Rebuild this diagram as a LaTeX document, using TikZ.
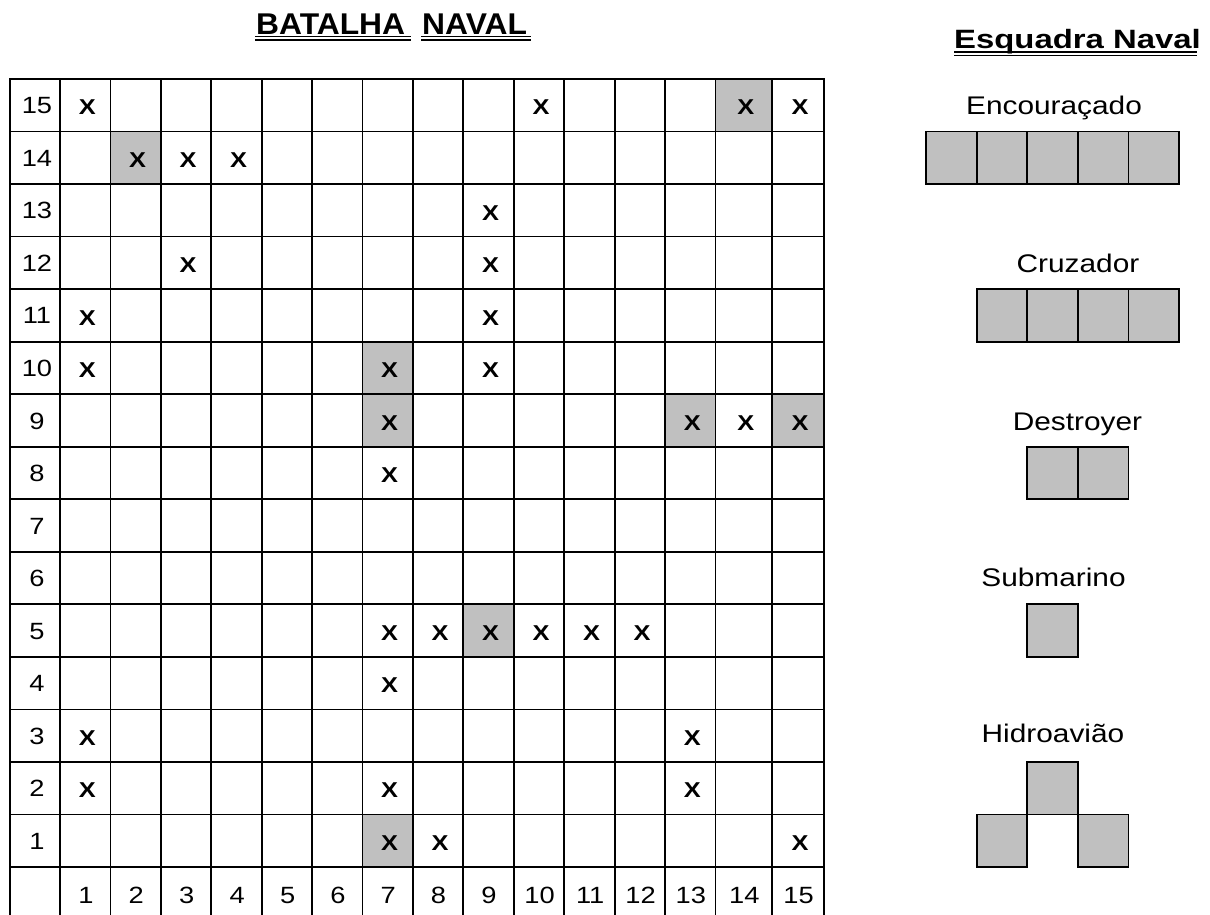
\documentclass[tikz,border=0pt]{standalone}
\usepackage{fontspec}
\setmainfont{Liberation Sans}
\usepackage{graphicx}
\definecolor{shipgrey}{HTML}{C0C0C0}
\newcommand\hstretch[2]{\scalebox{#1}[1]{#2}}
\begin{document}
\begin{tikzpicture}[x=1pt,y=-1pt,
  gridline/.style={line width=1.7pt, black, line cap=rect},
  shipcell/.style={fill=shipgrey, draw=black, line width=1.7pt},
  num/.style={inner sep=0pt, anchor=base, font=\fontsize{23.5}{23.5}\selectfont},
  xmk/.style={inner sep=0pt, anchor=base, font=\bfseries\fontsize{21.5}{21.5}\selectfont},
  lbl/.style={inner sep=0pt, anchor=base, font=\fontsize{25.5}{25.5}\selectfont},
  ttl/.style={inner sep=0pt, anchor=base west, font=\bfseries\fontsize{30}{30}\selectfont},
  ttlb/.style={inner sep=0pt, anchor=base west, font=\bfseries\fontsize{26.5}{26.5}\selectfont},
  uline/.style={line width=1.4pt, black}]
\useasboundingbox (0,0) rectangle (1210,915);
\def\xs{{10,60.3,110.4,161,211.3,262,312.3,362.4,412.8,463.3,513.7,564.3,615,665.2,715.4,772.3,824}}
\def\rh{52.53}
% shaded cells
\foreach \c/\r in {2/14,14/15,7/10,7/9,13/9,15/9,9/5,7/1}{
  \pgfmathsetmacro\xl{\xs[\c]}
  \pgfmathsetmacro\xr{\xs[\c+1]}
  \pgfmathsetmacro\yt{79+(15-\r)*\rh}
  \pgfmathsetmacro\yb{\yt+\rh}
  \fill[shipgrey] (\xl,\yt) rectangle (\xr,\yb);
}
% grid lines
\foreach \i in {0,...,16}{
  \pgfmathsetmacro\xx{\xs[\i]}
  \draw[gridline] (\xx,79) -- (\xx,920);
}
\foreach \j in {0,...,15}{
  \pgfmathsetmacro\yy{79+\j*\rh}
  \draw[gridline] (10,\yy) -- (824,\yy);
}
% row labels
\foreach \r in {1,...,15}{
  \pgfmathsetmacro\yy{79+(15-\r)*\rh+\rh/2+8.6}
  \node[num] (rl\r) at (37,\yy) {\hstretch{1.16}{\r}};
}
% column labels
\foreach \c in {1,...,15}{
  \pgfmathsetmacro\xa{\xs[\c]}
  \pgfmathsetmacro\xb{\xs[\c+1]}
  \pgfmathsetmacro\xx{(\xa+\xb)/2+0.5}
  \node[num] (cl\c) at (\xx,903) {\hstretch{1.16}{\c}};
}
% X marks
\foreach \c/\r in {1/15,10/15,14/15,15/15, 2/14,3/14,4/14, 9/13, 3/12,9/12, 1/11,9/11, 1/10,7/10,9/10,
  7/9,13/9,14/9,15/9, 7/8, 7/5,8/5,9/5,10/5,11/5,12/5, 7/4, 1/3,13/3, 1/2,7/2,13/2, 7/1,8/1,15/1}{
  \pgfmathsetmacro\xa{\xs[\c]}
  \pgfmathsetmacro\xb{\xs[\c+1]}
  \pgfmathsetmacro\xx{(\xa+\xb)/2+2}
  \pgfmathsetmacro\yy{79+(15-\r)*\rh+\rh/2+9.7}
  \node[xmk] (x\c-\r) at (\xx,\yy) {\hstretch{1.18}{X}};
}
% titles
\node[ttl] (t1) at (256,34.3) {\hstretch{1.06}{BATALHA}};
\node[ttl] (t2) at (422,34.3) {\hstretch{1.06}{NAVAL}};
\draw[uline] (255,36.5) -- (411,36.5) (255,40) -- (411,40);
\draw[uline] (421,36.5) -- (531,36.5) (421,40) -- (531,40);
\node[ttlb] (t3) at (954,48.3) {\hstretch{1.24}{Esquadra Naval}};
\draw[uline] (954,52) -- (1197,52) (954,55.5) -- (1197,55.5);
% ship labels
\node[lbl] (l1) at (1054,115) {\hstretch{1.17}{Encouraçado}};
\node[lbl] (l2) at (1078,272.3) {\hstretch{1.17}{Cruzador}};
\node[lbl] (l3) at (1077.5,430) {\hstretch{1.17}{Destroyer}};
\node[lbl] (l4) at (1053.5,586.7) {\hstretch{1.17}{Submarino}};
\node[lbl] (l5) at (1053,742.7) {\hstretch{1.17}{Hidroavião}};
% ships
\def\sx{{926,977,1027.3,1078,1128.5,1179}}
\foreach \c/\r in {0/14,1/14,2/14,3/14,4/14, 1/11,2/11,3/11,4/11, 2/8,3/8, 2/5, 2/2,1/1,3/1}{
  \pgfmathsetmacro\xl{\sx[\c]}
  \pgfmathsetmacro\xr{\sx[\c+1]}
  \pgfmathsetmacro\yt{79+(15-\r)*\rh}
  \pgfmathsetmacro\yb{\yt+\rh}
  \draw[shipcell] (\xl,\yt) rectangle (\xr,\yb);
}
\end{tikzpicture}
\end{document}
